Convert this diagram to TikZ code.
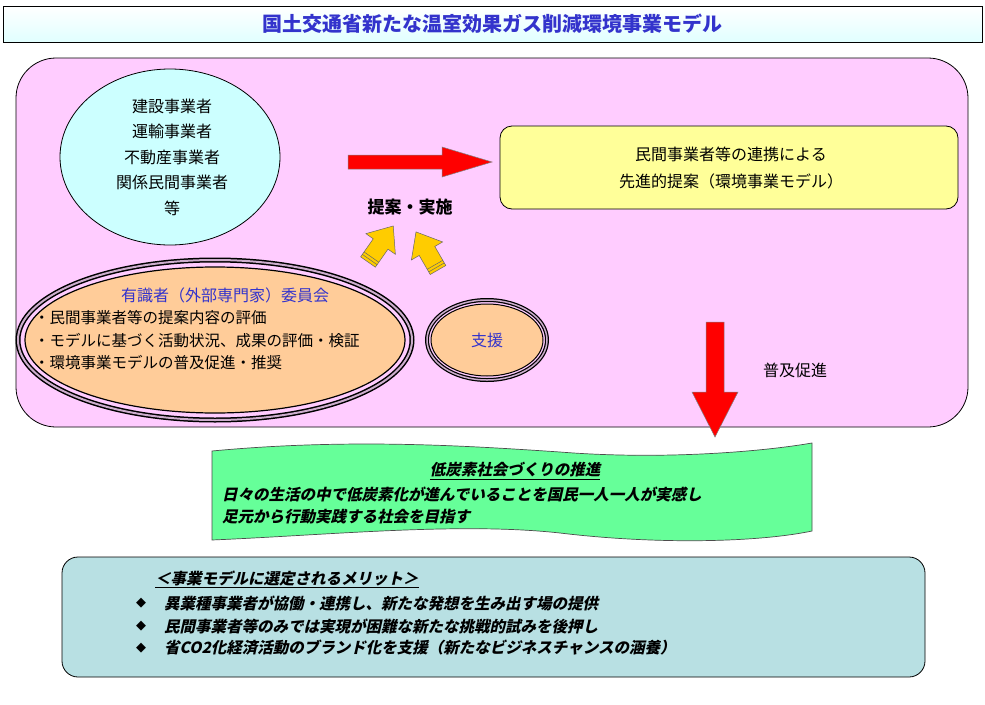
\documentclass[tikz,border=0pt]{standalone}
\usepackage{fontspec}
\newfontfamily\cjk{Noto Sans CJK JP}
\newfontfamily\cjki[FakeSlant=0.22]{Noto Sans CJK JP}
\newfontfamily\djv{DejaVu Sans}
\usetikzlibrary{shapes.geometric}
\definecolor{pinkbg}{HTML}{FFCCFF}
\definecolor{cyanbg}{HTML}{CCFFFF}
\definecolor{yelbg}{HTML}{FFFF99}
\definecolor{orbg}{HTML}{FFCC99}
\definecolor{grbg}{HTML}{66FF99}
\definecolor{tealbg}{HTML}{B8E0E3}
\definecolor{ttl}{HTML}{3333CC}
\definecolor{arrowred}{HTML}{FF0000}
\definecolor{arrowyel}{HTML}{FFCC00}
\begin{document}
\begin{tikzpicture}[x=1pt,y=-1pt,
  txt/.style={font=\cjk\fontsize{16}{20}\selectfont, align=center, inner sep=0},
  ltxt/.style={font=\cjk\fontsize{15.5}{19}\selectfont, anchor=west, inner sep=0},
  itxt/.style={font=\cjki\bfseries\fontsize{15.5}{19}\selectfont, anchor=west, inner sep=0},
  fatarrow/.style={draw=black!60, line width=0.6}]
\useasboundingbox (0,0) rectangle (985,704);
\fill[white] (0,0) rectangle (985,704);
% title
\node[draw=black, line width=0.8, top color=white, bottom color=cyanbg!60, minimum width=979, minimum height=36, inner sep=0, font=\cjk\bfseries\fontsize{20}{24}\selectfont, text=ttl] (title) at (492.5,24) {国土交通省新たな温室効果ガス削減環境事業モデル};
% pink area
\draw[fill=pinkbg, draw=black, line width=0.8, rounded corners=40] (16,58) rectangle (968,427);
\coordinate (pinkbox) at (492,242);
% cyan ellipse
\node[ellipse, draw=black, line width=0.8, fill=cyanbg, minimum width=220, minimum height=176] (players) at (170,157) {};
\node[txt, font=\cjk\fontsize{16}{25.5}\selectfont] (playerstxt) at (172,157) {建設事業者\\運輸事業者\\不動産事業者\\関係民間事業者\\等};
% yellow box
\node[draw=black, line width=0.8, fill=yelbg, rounded corners=12, minimum width=458, minimum height=83, inner sep=0] (proposal) at (729,167.5) {};
\node[txt, font=\cjk\fontsize{16}{27}\selectfont] (proptxt) at (731,168) {民間事業者等の連携による\\先進的提案（環境事業モデル）};
% red right arrow
\fill[arrowred, draw=black!50, line width=0.5] (348,155) -- (442,155) -- (442,147) -- (492,162) -- (442,177) -- (442,169) -- (348,169) -- cycle;
\coordinate (arrowR) at (420,162);
\node[txt, font=\cjk\bfseries\fontsize{17}{20}\selectfont] (teian) at (410,207) {提案・実施};
% yellow arrows
\begin{scope}[shift={(368,262)}, rotate=-35]
\fill[arrowyel, draw=black!60, line width=0.5] (-9,0) -- (-9,-22) -- (-18,-22) -- (0,-44) -- (18,-22) -- (9,-22) -- (9,0) -- cycle;
\draw[black!60, line width=0.5] (-9,-3) -- (9,-3) (-9,-6) -- (9,-6);
\end{scope}
\begin{scope}[shift={(438,270)}, rotate=30]
\fill[arrowyel, draw=black!60, line width=0.5] (-9,0) -- (-9,-22) -- (-18,-22) -- (0,-44) -- (18,-22) -- (9,-22) -- (9,0) -- cycle;
\draw[black!60, line width=0.5] (-9,-3) -- (9,-3) (-9,-6) -- (9,-6);
\end{scope}
% committee ellipse
\draw[black, line width=5] (215,340) ellipse [x radius=197, y radius=80];
\draw[pinkbg!60!gray, line width=2] (215,340) ellipse [x radius=197, y radius=80];
\node[ellipse, fill=orbg, draw=black, line width=1.2, minimum width=380, minimum height=146] (committee) at (215,340) {};
\node[txt, text=ttl] (comtitle) at (225,295) {有識者（外部専門家）委員会};
\node[ltxt] (c1) at (34,318) {・民間事業者等の提案内容の評価};
\node[ltxt] (c2) at (34,341) {・モデルに基づく活動状況、成果の評価・検証};
\node[ltxt] (c3) at (34,363) {・環境事業モデルの普及促進・推奨};
% support ellipse
\draw[black, line width=4] (487,340) ellipse [x radius=60, y radius=40];
\draw[pinkbg!60!gray, line width=1.5] (487,340) ellipse [x radius=60, y radius=40];
\node[ellipse, fill=orbg, draw=black, line width=1, minimum width=112, minimum height=72] (support) at (487,340) {};
\node[txt, text=ttl] (supporttxt) at (487,340) {支援};
% red down arrow
\fill[arrowred, draw=black!50, line width=0.5] (706,322) -- (724,322) -- (724,392) -- (738,392) -- (715,437) -- (692,392) -- (706,392) -- cycle;
\node[txt] (fukyu) at (795,370) {普及促進};
% green wave
\draw[fill=grbg, draw=black!70, line width=0.7] (212,451) .. controls (350,438) and (470,446) .. (560,452) .. controls (660,460) and (760,452) .. (812,443) -- (812,531) .. controls (760,542) and (660,545) .. (560,533) .. controls (460,522) and (330,535) .. (212,540) -- cycle;
\node[itxt, anchor=center] (gtitle) at (515,471) {\underline{低炭素社会づくりの推進}};
\node[itxt] (g1) at (222,494) {日々の生活の中で低炭素化が進んでいることを国民一人一人が実感し};
\node[itxt] (g2) at (222,517) {足元から行動実践する社会を目指す};
% merit box
\node[draw=black, line width=0.8, fill=tealbg, rounded corners=16, minimum width=863, minimum height=120, inner sep=0] (merit) at (493.5,617) {};
\node[itxt] (mh) at (155,579) {\underline{＜事業モデルに選定されるメリット＞}};
\node[ltxt, font=\djv\fontsize{13}{15}\selectfont] (b1) at (136,603) {◆};
\node[ltxt, font=\djv\fontsize{13}{15}\selectfont] (b2) at (136,626) {◆};
\node[ltxt, font=\djv\fontsize{13}{15}\selectfont] (b3) at (136,648) {◆};
\node[itxt] (m1) at (164,603) {異業種事業者が協働・連携し、新たな発想を生み出す場の提供};
\node[itxt] (m2) at (164,626) {民間事業者等のみでは実現が困難な新たな挑戦的試みを後押し};
\node[itxt] (m3) at (164,648) {省CO2化経済活動のブランド化を支援（新たなビジネスチャンスの涵養）};
\end{tikzpicture}
\end{document}
